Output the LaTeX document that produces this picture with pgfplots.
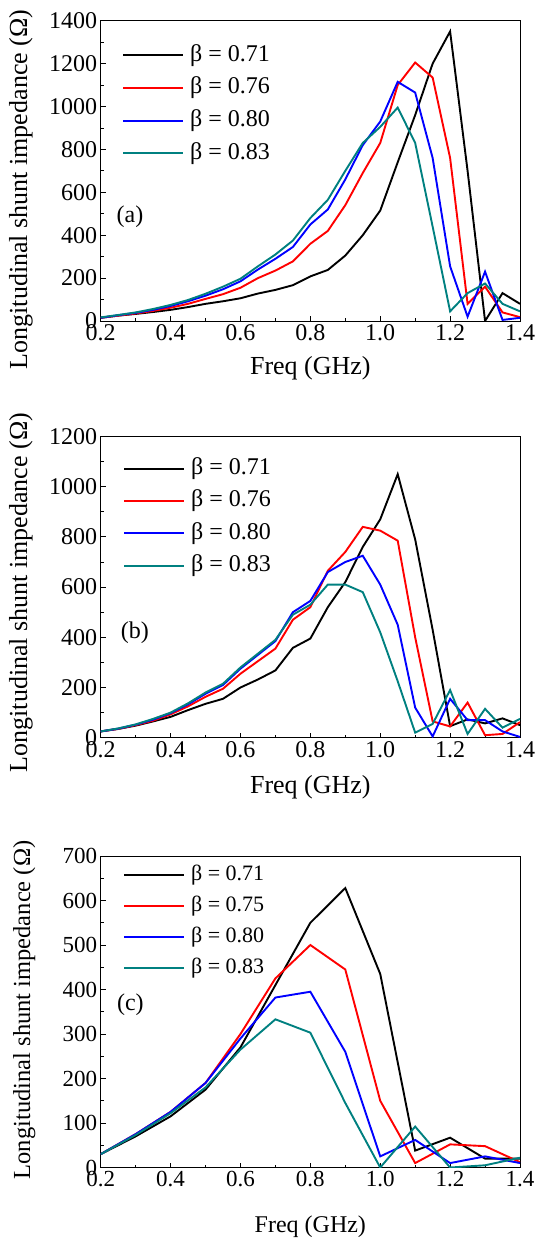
\documentclass[border=0pt]{standalone}
\usepackage{pgfplots}
\pgfplotsset{compat=1.18}
\usepackage{pgfplotstable}
\usepackage{fontspec}
\setmainfont{Liberation Serif}
\definecolor{cteal}{RGB}{0,128,128}

\pgfplotstableread{
f     k    r    b    t
0.20 15 15 15 17
0.25 25 25 27 28
0.30 33 35 38 40
0.35 42 47 52 56
0.40 52 62 70 75
0.45 65 80 92 98
0.50 80 103 118 127
0.55 92 125 148 160
0.60 106 155 185 197
0.65 128 200 240 255
0.70 145 235 290 310
0.75 167 278 345 375
0.80 208 360 450 480
0.85 238 420 520 565
0.90 305 540 660 700
0.95 400 690 820 830
1.00 515 830 930 905
1.05 740 1100 1115 995
1.10 960 1205 1065 830
1.15 1200 1135 760 440
1.20 1350 760 255 45
1.25 700 80 20 130
1.30 0 160 230 175
1.35 130 40 5 80
1.40 80 18 15 45
}\dataA

\pgfplotstableread{
f     k    r    b    t
0.20 25 25 25 25
0.25 35 35 36 37
0.30 48 50 52 53
0.35 65 68 72 75
0.40 83 93 98 100
0.45 110 125 133 137
0.50 135 163 175 180
0.55 155 195 210 215
0.60 200 255 275 280
0.65 232 305 330 335
0.70 268 355 385 390
0.75 358 470 500 490
0.80 395 520 545 530
0.85 520 665 660 610
0.90 620 740 700 610
0.95 760 840 725 580
1.00 870 825 610 420
1.05 1050 785 450 225
1.10 790 400 120 20
1.15 430 65 5 55
1.20 46 45 155 190
1.25 73 140 70 15
1.30 57 10 70 115
1.35 77 15 25 40
1.40 50 62 3 75
}\dataB

\pgfplotstableread{
f     k    r    b    t
0.2 30 30 30 30
0.3 70 75 75 73
0.4 115 125 125 122
0.5 175 190 190 180
0.6 270 300 290 265
0.7 410 425 382 333
0.8 550 500 395 303
0.9 628 445 260 145
1.0 435 150 25 0
1.1 38 10 62 92
1.2 67 52 10 0
1.3 20 48 25 5
1.4 20 12 10 22
}\dataC

\pgfplotsset{
  common/.style={
    scale only axis, width=419.3pt, anchor=south west,
    xmin=0.2, xmax=1.4, ymin=0,
    xtick={0.2,0.4,0.6,0.8,1.0,1.2,1.4},
    minor x tick num=1, minor y tick num=1,
    tick align=inside, xtick pos=left, ytick pos=left,
    major tick length=5pt, minor tick length=3pt,
    axis line style={line width=1pt, black},
    every tick/.style={black, line width=0.9pt},
    /pgf/number format/assume math mode=true,
    x tick label style={/pgf/number format/fixed, /pgf/number format/fixed zerofill, /pgf/number format/precision=1},
    y tick label style={/pgf/number format/fixed, /pgf/number format/set thousands separator={}},
    xlabel={Freq (GHz)}, ylabel={Longitudinal shunt impedance (Ω)},
    legend cell align=left,
    legend image code/.code={\draw[line width=1.9pt,##1] (0pt,0pt) -- (60pt,0pt); \path (66pt,0pt);},
    every axis plot/.append style={line width=1.9pt},
  },
  fontA/.style={
    tick label style={font=\fontsize{24}{28}\selectfont},
    every axis x label/.style={at={(axis description cs:0.5,#1)}, anchor=center, font=\fontsize{26}{30}\selectfont},
    legend style={draw=none, fill=none, inner sep=0pt, row sep=0.7pt,
      font=\fontsize{24}{28}\selectfont,
      nodes={inner sep=0pt, text height=22pt, text depth=10pt}},
  },
}

\begin{document}
\begin{tikzpicture}
\path[use as bounding box] (0pt,0pt) rectangle (535pt,-1239pt);

% ---------- (a)
\begin{axis}[common, fontA=-0.157, at={(100.7pt,-321pt)}, height=300.3pt,
  ymax=1400, ytick={0,200,...,1400},
  every axis y label/.style={at={(axis description cs:-0.19,0.438)}, rotate=90, anchor=center, font=\fontsize{26}{30}\selectfont},
  legend style={at={(axis description cs:0.0508,0.939)}, anchor=north west}]
\addplot[black] table[x=f,y=k] {\dataA};
\addplot[red] table[x=f,y=r] {\dataA};
\addplot[blue] table[x=f,y=b] {\dataA};
\addplot[cteal] table[x=f,y=t] {\dataA};
\legend{β = 0.71, β = 0.76, β = 0.80, β = 0.83}
\node[font=\fontsize{24}{28}\selectfont] at (axis cs:0.284,485) {(a)};
\end{axis}

% ---------- (b)
\begin{axis}[common, fontA=-0.163, at={(100.7pt,-737.7pt)}, height=301.2pt,
  ymax=1200, ytick={0,200,...,1200},
  every axis y label/.style={at={(axis description cs:-0.19,0.482)}, rotate=90, anchor=center, font=\fontsize{26}{30}\selectfont},
  legend style={at={(axis description cs:0.0532,0.947)}, anchor=north west, row sep=0.3pt}]
\addplot[black] table[x=f,y=k] {\dataB};
\addplot[red] table[x=f,y=r] {\dataB};
\addplot[blue] table[x=f,y=b] {\dataB};
\addplot[cteal] table[x=f,y=t] {\dataB};
\legend{β = 0.71, β = 0.76, β = 0.80, β = 0.83}
\node[font=\fontsize{24}{28}\selectfont] at (axis cs:0.298,417) {(b)};
\end{axis}

% ---------- (c)
\begin{axis}[common, at={(100.7pt,-1167.5pt)}, height=311.5pt,
  ymax=700, ytick={0,100,...,700},
  tick label style={font=\fontsize{23}{27}\selectfont},
  every axis x label/.style={at={(axis description cs:0.5,-0.19)}, anchor=center, font=\fontsize{24}{28}\selectfont},
  every axis y label/.style={at={(axis description cs:-0.182,0.506)}, rotate=90, anchor=center, font=\fontsize{24.5}{28}\selectfont},
  legend style={draw=none, fill=none, inner sep=0pt, row sep=0pt,
      font=\fontsize{22}{26}\selectfont,
      nodes={inner sep=0pt, text height=20.5pt, text depth=10.5pt},
      at={(axis description cs:0.0532,0.989)}, anchor=north west}]
\addplot[black] table[x=f,y=k] {\dataC};
\addplot[red] table[x=f,y=r] {\dataC};
\addplot[blue] table[x=f,y=b] {\dataC};
\addplot[cteal] table[x=f,y=t] {\dataC};
\legend{β = 0.71, β = 0.75, β = 0.80, β = 0.83}
\node[font=\fontsize{24}{28}\selectfont] at (axis cs:0.285,365) {(c)};
\end{axis}
\end{tikzpicture}
\end{document}
